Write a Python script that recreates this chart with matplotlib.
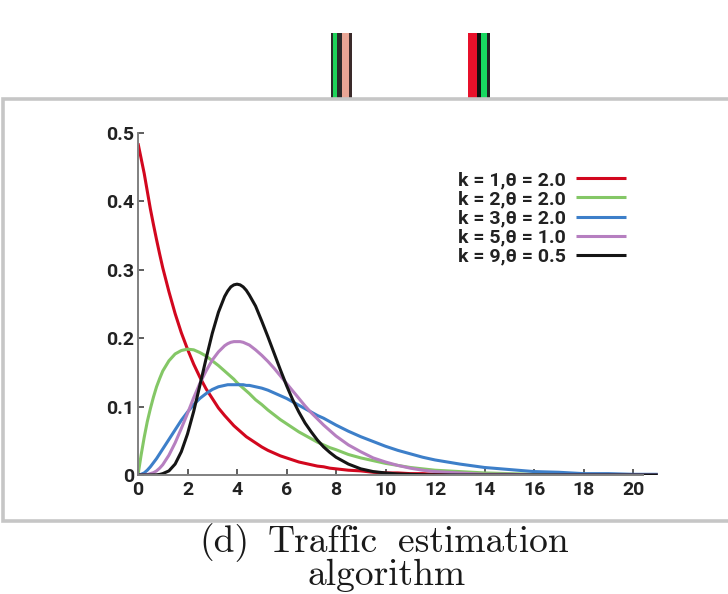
import matplotlib
matplotlib.use("Agg")
import matplotlib.pyplot as plt
from matplotlib import font_manager
from matplotlib.patches import Rectangle

W, H = 728, 594

# sample positions along x
x = [0, 0.125, 0.25, 0.375, 0.5, 0.625, 0.75, 0.875, 1, 1.25, 1.5, 1.75, 2, 2.25, 2.5,
     2.75, 3, 3.25, 3.5, 3.625, 3.75, 3.875, 4, 4.125, 4.25, 4.375, 4.5, 4.75, 5, 5.25,
     5.5, 5.75, 6, 6.25, 6.5, 6.75, 7, 7.25, 7.5, 7.75, 8,
     8.5, 9, 9.5, 10, 10.5, 11, 11.5, 12,
     13, 14, 15, 16, 17, 18, 19, 20, 21]

k1_t2 = [0.485, 0.463, 0.441, 0.415, 0.389, 0.366, 0.344, 0.323, 0.303, 0.268, 0.236,
         0.208, 0.184, 0.162, 0.143, 0.126, 0.112, 0.098, 0.087, 0.082, 0.077, 0.072,
         0.068, 0.064, 0.060, 0.056, 0.053, 0.047, 0.041, 0.036, 0.032, 0.028,
         0.025, 0.022, 0.019, 0.017, 0.015, 0.013, 0.012, 0.010, 0.009,
         0.007, 0.006, 0.004, 0.003, 0.003, 0.002, 0.002, 0.001,
         0.001, 0.0005, 0.0003, 0, 0, 0, 0, 0, 0]
k2_t2 = [0, 0.029, 0.055, 0.078, 0.097, 0.114, 0.129, 0.141, 0.152, 0.167, 0.177,
         0.182, 0.184, 0.183, 0.179, 0.174, 0.167, 0.160, 0.152, 0.148, 0.144, 0.140,
         0.135, 0.131, 0.127, 0.123, 0.119, 0.110, 0.103, 0.095, 0.088, 0.081,
         0.075, 0.069, 0.063, 0.058, 0.053, 0.048, 0.044, 0.040, 0.037,
         0.030, 0.025, 0.021, 0.017, 0.014, 0.011, 0.009, 0.007,
         0.005, 0.003, 0.002, 0.001, 0.001, 0.001, 0.0004, 0.0002, 0.0001]
k3_t2 = [0, 0.001, 0.003, 0.007, 0.012, 0.018, 0.024, 0.031, 0.038, 0.052, 0.066,
         0.080, 0.092, 0.103, 0.112, 0.119, 0.125, 0.129, 0.131, 0.132, 0.132, 0.132,
         0.132, 0.132, 0.132, 0.131, 0.131, 0.129, 0.127, 0.124, 0.120, 0.116,
         0.112, 0.107, 0.102, 0.097, 0.092, 0.087, 0.083, 0.078, 0.073,
         0.064, 0.056, 0.049, 0.042, 0.036, 0.031, 0.026, 0.022,
         0.016, 0.011, 0.008, 0.005, 0.004, 0.002, 0.002, 0.001, 0.001]
k5_t1 = [0, 0, 0.0002, 0.0006, 0.002, 0.0034, 0.006, 0.010, 0.015, 0.029, 0.047,
         0.068, 0.090, 0.113, 0.134, 0.152, 0.168, 0.180, 0.189, 0.192, 0.194, 0.195,
         0.195, 0.195, 0.194, 0.192, 0.190, 0.183, 0.175, 0.166, 0.156, 0.145,
         0.134, 0.123, 0.112, 0.101, 0.091, 0.082, 0.073, 0.065, 0.057,
         0.044, 0.034, 0.025, 0.019, 0.014, 0.010, 0.007, 0.005,
         0.003, 0.001, 0.001, 0, 0, 0, 0, 0, 0]
k9_t05 = [0, 0, 0, 0, 0, 0.0001, 0.0003, 0.0008, 0.002, 0.006, 0.016, 0.034, 0.060,
          0.093, 0.131, 0.170, 0.207, 0.238, 0.261, 0.269, 0.275, 0.278, 0.279, 0.278,
          0.275, 0.270, 0.263, 0.247, 0.225, 0.202, 0.178, 0.154,
          0.131, 0.110, 0.092, 0.076, 0.063, 0.051, 0.041, 0.033, 0.026,
          0.016, 0.009, 0.005, 0.003, 0.0015, 0.001, 0.0004, 0.0002,
          0, 0, 0, 0, 0, 0, 0, 0, 0]

series = [k1_t2, k2_t2, k3_t2, k5_t1, k9_t05]
labels = ["k = 1,θ = 2.0", "k = 2,θ = 2.0", "k = 3,θ = 2.0", "k = 5,θ = 1.0", "k = 9,θ = 0.5"]
colors = ["#d2071e", "#84c766", "#3d7fc9", "#b67fc0", "#151515"]

xticks = [0, 2, 4, 6, 8, 10, 12, 14, 16, 18, 20]
yticks = [0, 0.1, 0.2, 0.3, 0.4, 0.5]
ytick_labels = ["0", "0.1", "0.2", "0.3", "0.4", "0.5"]

caption_words = [("(d)", 224, 552), ("Traffic", 322.5, 552), ("estimation", 483.5, 552),
                 ("algorithm", 387, 585)]

# a narrow bold sans if one is there, else Roboto
installed = {f.name for f in font_manager.fontManager.ttflist}
FONT = ["Liberation Sans Narrow", "DejaVu Sans"] if "Liberation Sans Narrow" in installed \
    else ["Roboto", "DejaVu Sans"]


def box(x0, y0, x1, y1):
    # pixel box (top-left origin) -> figure fraction rect
    return [x0 / W, 1 - y1 / H, (x1 - x0) / W, (y1 - y0) / H]


fig = plt.figure(figsize=(W / 100, H / 100), dpi=100)
fig.patch.set_facecolor("white")

# bits of the figure above, cut off by the frame
stripes = [(331, 333, "#2a2a2a"), (333, 337, "#1fd35a"), (337, 341.5, "#2a2a2a"),
           (341.5, 349, "#e8a595"), (349, 352, "#3a2a2a"),
           (468, 476.5, "#e8102a"), (476.5, 481, "#111111"), (481, 487.5, "#18d860"),
           (487.5, 490, "#222222")]
for a, b, c in stripes:
    r = box(a, 33, b, 98)
    fig.patches.append(Rectangle((r[0], r[1]), r[2], r[3], transform=fig.transFigure,
                                 facecolor=c, edgecolor="none", zorder=1))

# grey frame around the panel
r = box(2.5, 98.5, 760, 520.5)
fig.patches.append(Rectangle((r[0], r[1]), r[2], r[3], transform=fig.transFigure,
                             facecolor="white", edgecolor="#c6c6c6", linewidth=2.6,
                             zorder=2))

ax = fig.add_axes(box(138, 133, 659, 475))
ax.set_zorder(3)
ax.patch.set_visible(False)

for ys, lab, c in zip(series, labels, colors):
    ax.plot(x, ys, color=c, lw=2.2, label=lab, solid_capstyle="butt",
            solid_joinstyle="round")

ax.set_xlim(0, 21.05)
ax.set_ylim(0, 0.5)
for s in ["top", "right"]:
    ax.spines[s].set_visible(False)
for s in ["left", "bottom"]:
    ax.spines[s].set_color("#808080")
    ax.spines[s].set_linewidth(1.4)
ax.spines["bottom"].set_bounds(0, 20.4)

ax.set_xticks(xticks)
ax.set_yticks(yticks)
ax.set_yticklabels(ytick_labels)
ax.tick_params(direction="in", length=4, width=1.1, color="#333333",
               labelsize=14, labelcolor="#222222")
ax.tick_params(axis="x", pad=4)
ax.tick_params(axis="y", pad=3)
for t in ax.get_xticklabels() + ax.get_yticklabels():
    t.set_family(FONT)
    t.set_fontweight("bold")

leg = ax.legend(loc="upper right", bbox_to_anchor=(626 / W, 1 - 171 / H),
                bbox_transform=fig.transFigure, frameon=False, markerfirst=False,
                borderpad=0, borderaxespad=0, handlelength=2.55, handletextpad=0.55,
                labelspacing=0.06, prop={"family": FONT, "weight": "bold", "size": 14})
for t in leg.get_texts():
    t.set_color("#222222")

for word, cx, by in caption_words:
    fig.text(cx / W, 1 - by / H, word, family="cmr10", fontsize=27,
             ha="center", va="baseline", color="#1a1a1a")

fig.savefig("out.png", dpi=100, facecolor="white")
